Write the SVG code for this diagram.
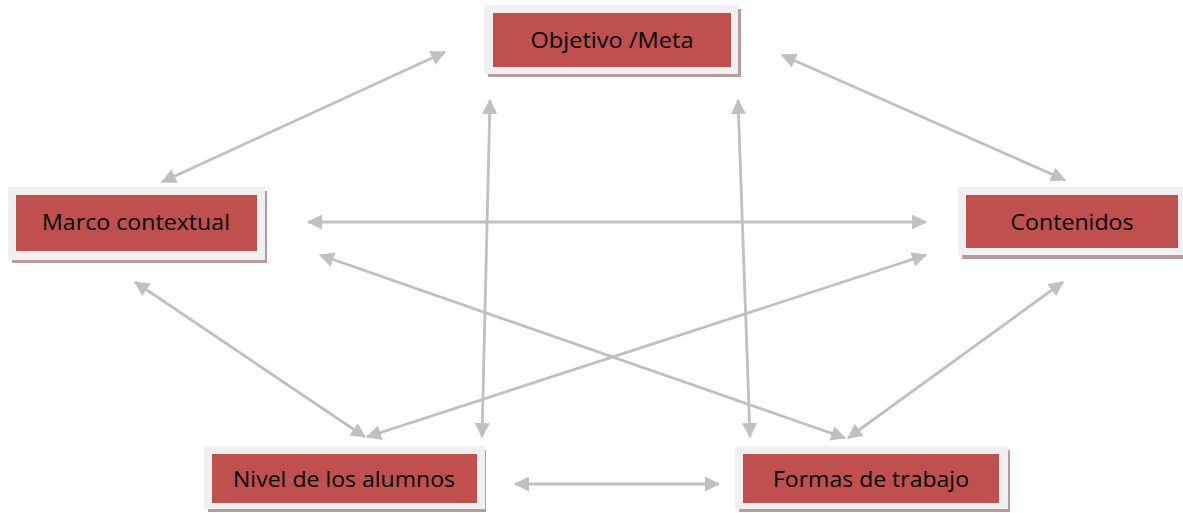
<svg xmlns="http://www.w3.org/2000/svg" width="1183" height="513" viewBox="0 0 1183 513">
<style>
.shadow{fill:#bd9a9a}
.frame{fill:#f0f0f0}
.box{fill:#c0504d}
.lbl{font-family:"Open Sans","Liberation Sans",sans-serif;font-size:21px;fill:#000;text-anchor:middle}
.conn{stroke:#c0c0c0;stroke-width:2.8;fill:none;marker-start:url(#ah);marker-end:url(#ah)}
</style>
<defs>
<marker id="ah" viewBox="0 0 14 14" refX="13" refY="7" markerWidth="15" markerHeight="15" markerUnits="userSpaceOnUse" orient="auto-start-reverse">
<path d="M0,0 L14,7 L0,14 Z" fill="#c0c0c0"/>
</marker>
</defs>
<rect width="1183" height="513" fill="#fff"/>
<g id="connectors">
<line class="conn" x1="445" y1="52" x2="162" y2="182"/>
<line class="conn" x1="782" y1="55" x2="1065" y2="180"/>
<line class="conn" x1="308" y1="222" x2="926" y2="222"/>
<line class="conn" x1="135" y1="282" x2="365" y2="437"/>
<line class="conn" x1="926" y1="255" x2="367" y2="437"/>
<line class="conn" x1="320" y1="255" x2="845" y2="438"/>
<line class="conn" x1="1063" y1="282" x2="848" y2="438"/>
<line class="conn" x1="490" y1="100" x2="482" y2="437"/>
<line class="conn" x1="738" y1="100" x2="750" y2="437"/>
<line class="conn" x1="515" y1="484" x2="719" y2="484"/>
</g>
<g id="objetivo">
<rect class="shadow" x="488" y="9" width="253" height="68"/>
<rect class="frame" x="484" y="5" width="254" height="69"/>
<rect class="box" x="493" y="13" width="238" height="54"/>
<text class="lbl" x="612" y="48" textLength="163" lengthAdjust="spacingAndGlyphs">Objetivo /Meta</text>
</g>
<g id="marco">
<rect class="shadow" x="12" y="191" width="255" height="72"/>
<rect class="frame" x="8" y="187" width="257" height="73"/>
<rect class="box" x="16" y="195" width="241" height="56"/>
<text class="lbl" x="136" y="230" textLength="188" lengthAdjust="spacingAndGlyphs">Marco contextual</text>
</g>
<g id="contenidos">
<rect class="shadow" x="962" y="191" width="230" height="68"/>
<rect class="frame" x="958" y="187" width="230" height="68"/>
<rect class="box" x="966" y="195" width="212" height="53"/>
<text class="lbl" x="1072" y="230" textLength="123" lengthAdjust="spacingAndGlyphs">Contenidos</text>
</g>
<g id="nivel">
<rect class="shadow" x="208" y="450" width="278" height="62"/>
<rect class="frame" x="204" y="446" width="281" height="63"/>
<rect class="box" x="212" y="454" width="265" height="49"/>
<text class="lbl" x="344" y="487" textLength="222" lengthAdjust="spacingAndGlyphs">Nivel de los alumnos</text>
</g>
<g id="formas">
<rect class="shadow" x="739" y="450" width="271" height="62"/>
<rect class="frame" x="735" y="446" width="273" height="63"/>
<rect class="box" x="743" y="454" width="256" height="49"/>
<text class="lbl" x="871" y="487" textLength="196" lengthAdjust="spacingAndGlyphs">Formas de trabajo</text>
</g>
</svg>
